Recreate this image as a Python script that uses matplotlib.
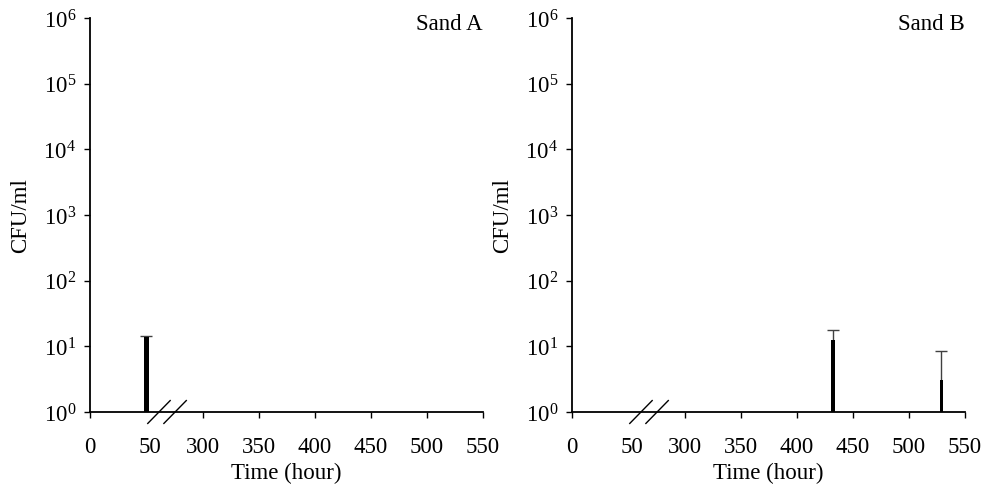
import numpy as np
import matplotlib
matplotlib.use("Agg")
import matplotlib.pyplot as plt
from matplotlib.ticker import FixedLocator, FuncFormatter

plt.rcParams['font.family'] = ['Liberation Serif', 'DejaVu Serif']
plt.rcParams['mathtext.fontset'] = 'stix'

# ---- data ----
panels = ["Sand A", "Sand B"]
a_time = [47]
a_cfu = [13.8]
a_err = [0.8]
b_time = [432, 529]
b_cfu = [12.5, 3.1]
b_err = [5.5, 5.3]
xtick_vals = [0, 50, 300, 350, 400, 450, 500, 550]
xtick_labels = ["0", "50", "300", "350", "400", "450", "500", "550"]
ytick_vals = [1, 10, 100, 1000, 1e4, 1e5, 1e6]

# broken x axis: hours -> display units
brk_h = [0, 50, 300, 550]
brk_u = [0, 60, 113, 393]

def fwd(h):
    return np.interp(h, brk_h, brk_u)

def inv(u):
    return np.interp(u, brk_u, brk_h)

W, H = 985, 485
fig = plt.figure(figsize=(W / 100, H / 100), dpi=100)
ax_a = fig.add_axes([90 / W, 1 - 413 / H, 393 / W, 394 / H])
ax_b = fig.add_axes([572 / W, 1 - 413 / H, 393 / W, 394 / H])

FS = 16.5
for ax, name, t, v, e in [(ax_a, panels[0], a_time, a_cfu, a_err),
                          (ax_b, panels[1], b_time, b_cfu, b_err)]:
    ax.set_xscale('function', functions=(fwd, inv))
    ax.set_yscale('log')
    ax.bar(t, v, width=3.5, color='black', edgecolor='none', zorder=3)
    eb = ax.errorbar(t, v, yerr=[np.zeros(len(e)), e], fmt='none', ecolor='#404040',
                     elinewidth=1.0, capsize=4, capthick=1.0, zorder=2)
    eb[1][0].set_visible(False)  # hide lower caps
    ax.set_xlim(0, 550)
    ax.set_ylim(1, 1e6)
    ax.xaxis.set_major_locator(FixedLocator(xtick_vals))
    ax.set_xticklabels(xtick_labels)
    ax.xaxis.set_minor_locator(FixedLocator([]))
    ax.yaxis.set_major_locator(FixedLocator(ytick_vals))
    ax.yaxis.set_minor_locator(FixedLocator([]))
    ax.yaxis.set_major_formatter(FuncFormatter(
        lambda y, p: r'$\mathregular{10^{%d}}$' % int(round(np.log10(y)))))
    for s in ['top', 'right']:
        ax.spines[s].set_visible(False)
    for s in ['left', 'bottom']:
        ax.spines[s].set_linewidth(1.3)
    ax.tick_params(axis='both', direction='out', length=4, width=1.0,
                   labelsize=FS, colors='black')
    ax.tick_params(axis='x', pad=13)
    ax.tick_params(axis='y', pad=6)
    ax.xaxis.get_major_ticks()[1].tick1line.set_visible(False)
    ax.set_xlabel("Time (hour)", fontsize=FS, labelpad=4)
    ax.set_ylabel("CFU/ml", fontsize=FS, labelpad=9)
    ax.text(0.915, 0.985, name, transform=ax.transAxes, fontsize=FS,
            ha='center', va='center')
    # axis break marks
    for x0 in [0.147, 0.188]:
        ax.plot([x0, x0 + 0.057], [-0.029, 0.029], transform=ax.transAxes,
                color='black', lw=1.0, clip_on=False, zorder=5)

fig.savefig("out.png", dpi=100)
